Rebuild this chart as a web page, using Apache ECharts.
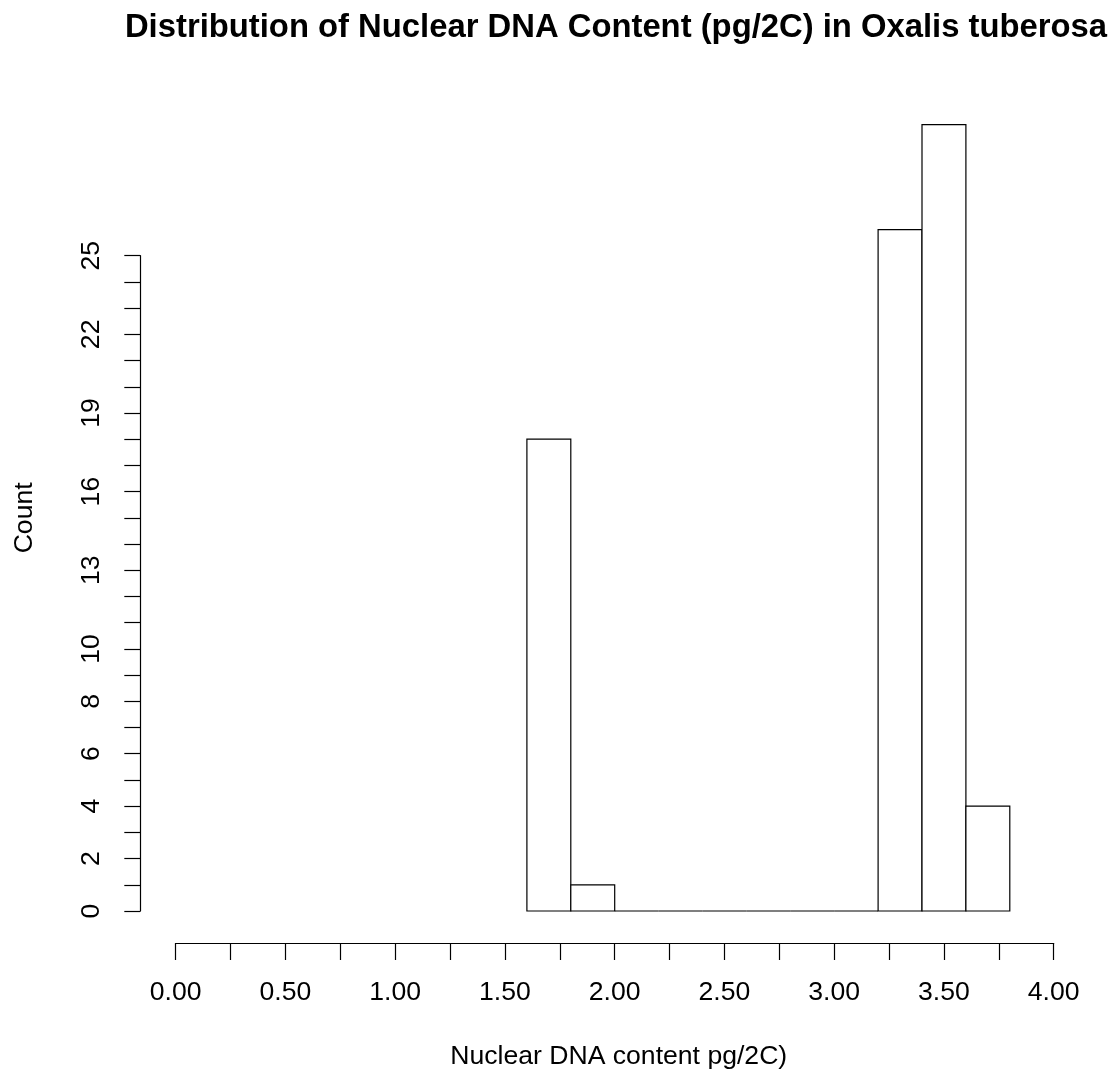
<!DOCTYPE html>
<html>
<head>
<meta charset="utf-8">
<script src="https://cdn.jsdelivr.net/npm/echarts@6/dist/echarts.min.js"></script>
<style>
  html, body { margin: 0; padding: 0; background: #fff; }
  #chart { width: 1112px; height: 1076px; }
</style>
</head>
<body>
<div id="chart"></div>
<script>
// Histogram bins: edges (pg/2C) and counts per bin
const binEdges = [1.6, 1.8, 2.0, 2.2, 2.4, 2.6, 2.8, 3.0, 3.2, 3.4, 3.6, 3.8];
const binCounts = [18, 1, 0, 0, 0, 0, 0, 0, 26, 30, 4];

// Axis tick labels
const yLabelValues = [0, 2, 4, 6, 8, 10, 13, 16, 19, 22, 25];
const xLabelValues = [0, 0.5, 1, 1.5, 2, 2.5, 3, 3.5, 4];

const titleText = 'Distribution of Nuclear DNA Content (pg/2C) in Oxalis tuberosa';
const xTitle = 'Nuclear DNA content pg/2C)';
const yTitle = 'Count';

const FONT = '"Liberation Sans", Arial, Helvetica, sans-serif';
const INK = '#000';

const binData = binCounts.map((c, i) => [binEdges[i], binEdges[i + 1], c]);

const plotLeft = 175.7, plotRight = 1053.7, plotBottom = 911;
const W = 1112, H = 1076;

const chart = echarts.init(document.getElementById('chart'), null, { renderer: 'canvas' });

chart.setOption({
  backgroundColor: '#fff',
  animation: false,
  title: {
    text: titleText,
    left: 611,
    textAlign: 'center',
    top: 6,
    textStyle: { fontFamily: FONT, fontWeight: 'bold', fontSize: 32.8, color: INK }
  },
  grid: [
    // plotting region for the bars
    { left: plotLeft, right: W - plotRight, top: 124.7, bottom: H - plotBottom, containLabel: false },
    // region spanning only the labelled count range, used for the left axis
    { left: plotLeft, right: W - plotRight, top: 255.7, bottom: H - plotBottom, containLabel: false }
  ],
  xAxis: [
    {
      gridIndex: 0, type: 'value', min: 0, max: 4, interval: 0.25,
      position: 'bottom', offset: 32,
      axisLine: { show: true, onZero: false, lineStyle: { color: INK, width: 1.2 } },
      axisTick: { show: true, length: 17, lineStyle: { color: INK, width: 1.2 } },
      axisLabel: {
        margin: 36, fontFamily: FONT, fontSize: 26.6, color: INK,
        formatter: v => xLabelValues.some(t => Math.abs(t - v) < 1e-9) ? v.toFixed(2) : ''
      },
      splitLine: { show: false }
    },
    { gridIndex: 1, type: 'value', min: 0, max: 4, show: false }
  ],
  yAxis: [
    { gridIndex: 0, type: 'value', min: 0, max: 30, show: false },
    {
      gridIndex: 1, type: 'value', min: 0, max: 25, interval: 1,
      position: 'left', offset: plotLeft - 140.3,
      axisLine: { show: true, onZero: false, lineStyle: { color: INK, width: 1.2 } },
      axisTick: { show: true, length: 16, lineStyle: { color: INK, width: 1.2 } },
      axisLabel: {
        rotate: 90, margin: 35, fontFamily: FONT, fontSize: 26.6, color: INK,
        formatter: v => yLabelValues.indexOf(v) >= 0 ? String(v) : ''
      },
      splitLine: { show: false }
    }
  ],
  graphic: [
    {
      type: 'text', x: 25, y: (124.7 + plotBottom) / 2, rotation: Math.PI / 2,
      style: { text: yTitle, fontFamily: FONT, fontSize: 26.6, fill: INK, align: 'center', verticalAlign: 'middle' }
    },
    {
      type: 'text', x: (plotLeft + plotRight) / 2 + 4, y: 1057,
      style: { text: xTitle, fontFamily: FONT, fontSize: 26.6, fill: INK, align: 'center', verticalAlign: 'middle' }
    }
  ],
  series: [
    {
      type: 'custom',
      xAxisIndex: 0, yAxisIndex: 0,
      clip: false,
      data: binData,
      encode: { x: [0, 1], y: 2 },
      renderItem: (params, api) => {
        const p0 = api.coord([api.value(0), api.value(2)]);
        const p1 = api.coord([api.value(1), 0]);
        return {
          type: 'rect',
          shape: { x: p0[0], y: p0[1], width: p1[0] - p0[0], height: p1[1] - p0[1] },
          style: { fill: '#fff', stroke: INK, lineWidth: 1.2 }
        };
      }
    }
  ]
});
</script>
</body>
</html>
